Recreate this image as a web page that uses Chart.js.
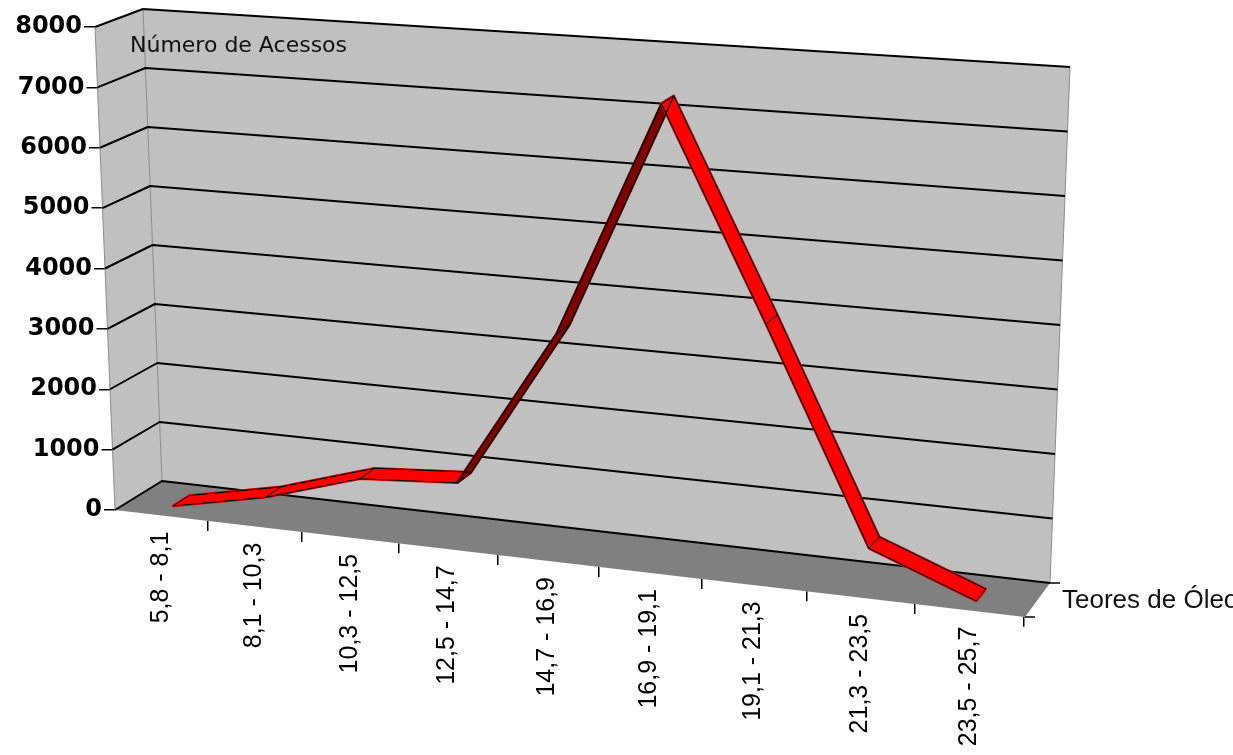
<!DOCTYPE html>
<html>
<head>
<meta charset="utf-8">
<title>Número de Acessos por Teores de Óleo</title>
<script src="https://cdn.jsdelivr.net/npm/chart.js@4/dist/chart.umd.min.js"></script>
<style>
	html, body { margin: 0; padding: 0; background: #fff; }
	canvas { display: block; }
</style>
</head>
<body>
<canvas id="chart" width="1233" height="755"></canvas>
<script>

// categories (oil content ranges)
const ranges = [ '5,8 - 8,1', '8,1 - 10,3', '10,3 - 12,5', '12,5 - 14,7', '14,7 - 16,9', '16,9 - 19,1', '19,1 - 21,3', '21,3 - 23,5', '23,5 - 25,7' ];

// number of accessions in each range
const accesses = [ 30, 350, 830, 940, 3490, 7280, 3950, 630, 10 ];

// value axis
const valueMin = 0;
const valueMax = 8000;
const valueStep = 1000;

const valueTitle = 'Número de Acessos';
const seriesName = 'Teores de Óleo';

// pseudo 3D frame: corners of the front and back planes (bottom/top, left/right)
const FRONT = { bl: [ 115, 510 ], br: [ 1025, 617 ], tl: [ 95, 27 ], tr: [ 1045, 89 ] };
const BACK = { bl: [ 162, 481 ], br: [ 1050, 583 ], tl: [ 143, 9 ], tr: [ 1070, 67 ] };
const DEPTH = [ 0.26, 0.62 ];	// where the ribbon sits between front (0) and back (1)
const X_WARP = 0.905;		// foreshortening along the category axis
const STEPS = 28;

const FLOOR_SLOPE = ( FRONT.br[ 1 ] - FRONT.bl[ 1 ] ) / ( FRONT.br[ 0 ] - FRONT.bl[ 0 ] );
const AXIS_LEAN = ( FRONT.bl[ 0 ] - FRONT.tl[ 0 ] ) / ( FRONT.bl[ 1 ] - FRONT.tl[ 1 ] );

const WALL = '#c0c0c0';
const FLOOR = '#808080';
const EDGE = '#8a8a8a';
const RED = '#ff0000';
const DARK_RED = '#800000';

const WIDTH = 1233;
const HEIGHT = 755;

const SANS = '"DejaVu Sans", sans-serif';
const ARIAL = '"Liberation Sans", Arial, sans-serif';

function lerp ( a, b, k ) {

	return [ a[ 0 ] + ( b[ 0 ] - a[ 0 ] ) * k, a[ 1 ] + ( b[ 1 ] - a[ 1 ] ) * k ];

}

function plane ( q, t, v ) {

	return lerp( lerp( q.bl, q.br, t ), lerp( q.tl, q.tr, t ), v );

}

function project ( t, v, d ) {

	return lerp( plane( FRONT, t, v ), plane( BACK, t, v ), d );

}

function polygon ( ctx, pts, fill ) {

	ctx.beginPath();
	pts.forEach( ( p, i ) => i ? ctx.lineTo( p[ 0 ], p[ 1 ] ) : ctx.moveTo( p[ 0 ], p[ 1 ] ) );
	ctx.closePath();
	ctx.fillStyle = fill;
	ctx.fill();

}

function polyline ( ctx, pts, colour, width ) {

	ctx.beginPath();
	pts.forEach( ( p, i ) => i ? ctx.lineTo( p[ 0 ], p[ 1 ] ) : ctx.moveTo( p[ 0 ], p[ 1 ] ) );
	ctx.strokeStyle = colour;
	ctx.lineWidth = width;
	ctx.stroke();

}

// category axis laid along the slanted front edge of the floor
class SlantCategoryScale extends Chart.CategoryScale {

	static id = 'slantCategory';

	getPixelForDecimal ( decimal ) {

		const warped = X_WARP * decimal / ( 1 + ( X_WARP - 1 ) * decimal );
		return super.getPixelForDecimal( warped );

	}

	_computeGridLineItems ( area ) {

		const items = super._computeGridLineItems( area );

		items.forEach( item => {

			const dy = FLOOR_SLOPE * ( item.tx1 - this.left );
			item.ty1 += dy;
			item.ty2 += dy;

		} );

		return items;

	}

	_computeLabelItems ( area ) {

		const items = super._computeLabelItems( area );

		items.forEach( item => {

			const t = item.options.translation;
			t[ 1 ] += FLOOR_SLOPE * ( t[ 0 ] - this.left );

		} );

		return items;

	}

}

// value axis leaning with the front left edge
class SlantLinearScale extends Chart.LinearScale {

	static id = 'slantLinear';

	_computeGridLineItems ( area ) {

		const items = super._computeGridLineItems( area );

		items.forEach( item => {

			const dx = AXIS_LEAN * ( item.ty1 - this.bottom );
			item.tx1 += dx;
			item.tx2 += dx;

		} );

		return items;

	}

	_computeLabelItems ( area ) {

		const items = super._computeLabelItems( area );

		items.forEach( item => {

			const t = item.options.translation;
			t[ 0 ] += AXIS_LEAN * ( t[ 1 ] - this.bottom );

		} );

		return items;

	}

}

Chart.register( SlantCategoryScale, SlantLinearScale );

const frame3d = {

	id: 'frame3d',

	beforeDatasetsDraw ( chart ) {

		const ctx = chart.ctx;
		const area = chart.chartArea;
		const yScale = chart.scales.y;

		ctx.save();
		ctx.lineJoin = 'round';

		// walls and floor
		polygon( ctx, [ project( 0, 0, 0 ), project( 0, 0, 1 ), project( 0, 1, 1 ), project( 0, 1, 0 ) ], WALL );
		polygon( ctx, [ project( 0, 0, 1 ), project( 1, 0, 1 ), project( 1, 1, 1 ), project( 0, 1, 1 ) ], WALL );
		polygon( ctx, [ project( 0, 0, 0 ), project( 1, 0, 0 ), project( 1, 0, 1 ), project( 0, 0, 1 ) ], FLOOR );

		polyline( ctx, [ project( 0, 0, 0 ), project( 0, 1, 0 ) ], EDGE, 1 );
		polyline( ctx, [ project( 0, 0, 1 ), project( 0, 1, 1 ) ], EDGE, 1 );
		polyline( ctx, [ project( 1, 0, 1 ), project( 1, 1, 1 ) ], EDGE, 1 );

		// value gridlines on the side and back walls
		yScale.ticks.forEach( tick => {

			const v = ( area.bottom - yScale.getPixelForValue( tick.value ) ) / area.height;
			polyline( ctx, [ project( 0, v, 0 ), project( 0, v, 1 ), project( 1, v, 1 ) ], '#000', 2 );

		} );

		// depth axis ticks
		[ project( 1, 0, 0 ), project( 1, 0, 1 ) ].forEach( p => {

			polyline( ctx, [ p, [ p[ 0 ] + 10, p[ 1 ] ] ], '#000', 1.5 );

		} );

		ctx.fillStyle = '#111';
		ctx.textBaseline = 'alphabetic';
		ctx.font = '22px ' + SANS;
		ctx.fillText( valueTitle, 130, 52 );
		ctx.font = '26px ' + ARIAL;
		ctx.fillText( seriesName, 1062, 608 );

		// ribbon: the line dataset swept from back to front
		const ribbon = chart.getDatasetMeta( 0 );
		const outline = chart.getDatasetMeta( 1 );

		const flat = meta => meta.data.map( p => [ ( p.x - area.left ) / area.width, ( area.bottom - p.y ) / area.height, p.x, p.y ] );
		const ribbonFlat = flat( ribbon );
		const outlineFlat = flat( outline );

		const place = ( meta, coords, d ) => {

			meta.data.forEach( ( p, i ) => {

				const s = project( coords[ i ][ 0 ], coords[ i ][ 1 ], d );
				p.x = s[ 0 ];
				p.y = s[ 1 ];

			} );

			meta.dataset._path = undefined;

		};

		for ( let i = 0; i <= STEPS; i ++ ) {

			place( ribbon, ribbonFlat, DEPTH[ 1 ] - ( DEPTH[ 1 ] - DEPTH[ 0 ] ) * i / STEPS );
			ribbon.controller.draw();

		}

		place( outline, outlineFlat, DEPTH[ 1 ] );
		outline.controller.draw();
		place( outline, outlineFlat, DEPTH[ 0 ] );
		outline.controller.draw();

		// joints across the ribbon
		outlineFlat.forEach( c => {

			polyline( ctx, [ project( c[ 0 ], c[ 1 ], DEPTH[ 0 ] ), project( c[ 0 ], c[ 1 ], DEPTH[ 1 ] ) ], '#000', 1 );

		} );

		// put the elements back where the scales placed them
		[ [ ribbon, ribbonFlat ], [ outline, outlineFlat ] ].forEach( ( [ meta, coords ] ) => {

			meta.data.forEach( ( p, i ) => {

				p.x = coords[ i ][ 2 ];
				p.y = coords[ i ][ 3 ];

			} );

			meta.dataset._path = undefined;

		} );

		ctx.restore();

		return false;

	}

};

const canvas = document.getElementById( 'chart' );

const rising = ctx => accesses[ ctx.p1DataIndex ] - accesses[ ctx.p0DataIndex ] > 1500 ? DARK_RED : undefined;

const chart = new Chart( canvas, {
	type: 'line',
	data: {
		labels: ranges,
		datasets: [ {
			label: seriesName,
			data: accesses,
			borderColor: RED,
			borderWidth: 2.5,
			borderJoinStyle: 'round',
			borderCapStyle: 'round',
			pointRadius: 0,
			tension: 0,
			segment: {
				borderColor: rising
			}
		}, {
			label: seriesName,
			data: accesses,
			borderColor: '#000',
			borderWidth: 1.2,
			pointRadius: 0,
			tension: 0
		} ]
	},
	options: {
		responsive: false,
		animation: false,
		events: [],
		layout: {
			padding: {
				left: 0,
				top: FRONT.tl[ 1 ],
				right: WIDTH - FRONT.br[ 0 ],
				bottom: 0
			}
		},
		plugins: {
			legend: {
				display: false
			},
			tooltip: {
				enabled: false
			}
		},
		scales: {
			x: {
				type: 'slantCategory',
				offset: true,
				border: {
					display: false
				},
				grid: {
					offset: true,
					drawOnChartArea: false,
					drawTicks: true,
					tickLength: 10,
					color: '#000',
					lineWidth: 1.5
				},
				ticks: {
					autoSkip: false,
					minRotation: 90,
					maxRotation: 90,
					padding: 8,
					color: '#000',
					font: {
						family: ARIAL,
						size: 25
					}
				},
				afterFit: scale => {

					scale.height = HEIGHT - FRONT.bl[ 1 ];

				}
			},
			y: {
				type: 'slantLinear',
				min: valueMin,
				max: valueMax,
				border: {
					display: false
				},
				grid: {
					drawOnChartArea: false,
					drawTicks: true,
					tickLength: 11,
					color: '#000',
					lineWidth: 1.5
				},
				ticks: {
					stepSize: valueStep,
					padding: 2,
					color: '#000',
					font: {
						family: SANS,
						size: 24,
						weight: 'bold'
					},
					callback: value => String( value )
				},
				afterFit: scale => {

					scale.width = FRONT.bl[ 0 ];

				}
			}
		}
	},
	plugins: [ frame3d ]
} );

</script>
</body>
</html>
